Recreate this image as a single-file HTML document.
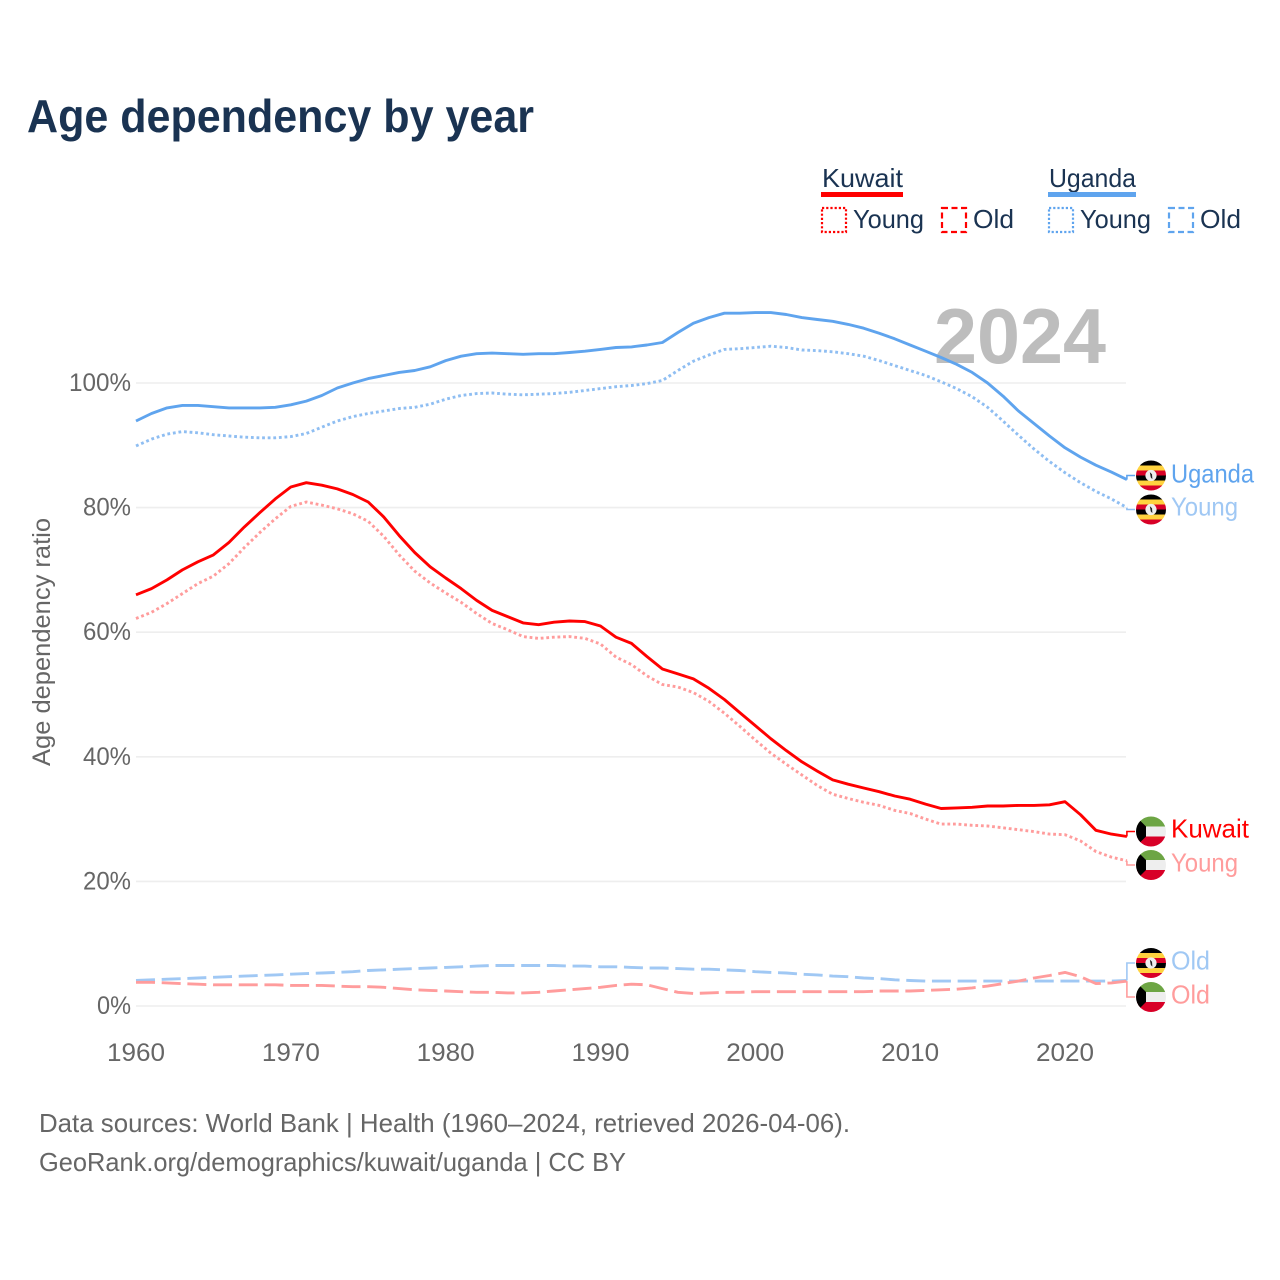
<!DOCTYPE html>
<html lang="en">
<head>
<meta charset="utf-8">
<title>Age dependency by year</title>
<style>
html,body{margin:0;padding:0;background:#fff;}
svg{display:block;}
text{font-family:"Liberation Sans",sans-serif;}
</style>
</head>
<body>
<svg id="chart" xmlns="http://www.w3.org/2000/svg" width="1280" height="1280" viewBox="0 0 1280 1280">
  <defs>
    <clipPath id="flag-clip"><circle cx="0" cy="0" r="15"/></clipPath>
    <g id="flag-uganda">
      <g clip-path="url(#flag-clip)">
        <rect x="-15" y="-15" width="30" height="5" fill="#000"/>
        <rect x="-15" y="-10" width="30" height="5" fill="#ffd23f"/>
        <rect x="-15" y="-5" width="30" height="5" fill="#d80027"/>
        <rect x="-15" y="0" width="30" height="5" fill="#000"/>
        <rect x="-15" y="5" width="30" height="5" fill="#ffd23f"/>
        <rect x="-15" y="10" width="30" height="5" fill="#d80027"/>
        <circle cx="0" cy="0" r="5.6" fill="#eee"/>
        <path d="M-1.2 -3.4 L1 -1.2 L1.4 3.6 L-0.2 2 Z" fill="#222"/>
      </g>
    </g>
    <g id="flag-kuwait">
      <g clip-path="url(#flag-clip)">
        <rect x="-15" y="-15" width="30" height="10" fill="#6da544"/>
        <rect x="-15" y="-5" width="30" height="10" fill="#eeeeee"/>
        <rect x="-15" y="5" width="30" height="10" fill="#d80027"/>
        <path d="M-15 -15 L-5 -5 L-5 5 L-15 15 Z" fill="#000"/>
      </g>
    </g>
  </defs>

  <text x="27" y="132" font-size="46" font-weight="700" fill="#1a3352" textLength="507" lengthAdjust="spacingAndGlyphs">Age dependency by year</text>

  <g id="legend">
    <text x="822" y="187" font-size="26" fill="#1a3352" textLength="81" lengthAdjust="spacingAndGlyphs">Kuwait</text>
    <rect x="821" y="192" width="82" height="5" fill="#ff0000"/>
    <rect x="822" y="208" width="24" height="24" fill="none" stroke="#ff0000" stroke-width="2.2" stroke-dasharray="2.2 2"/>
    <text x="853" y="228" font-size="26" fill="#1a3352" textLength="71" lengthAdjust="spacingAndGlyphs">Young</text>
    <rect x="942" y="208" width="24" height="24" fill="none" stroke="#ff0000" stroke-width="2.2" stroke-dasharray="6 3.5"/>
    <text x="973" y="228" font-size="26" fill="#1a3352" textLength="41" lengthAdjust="spacingAndGlyphs">Old</text>

    <text x="1049" y="187" font-size="26" fill="#1a3352" textLength="87" lengthAdjust="spacingAndGlyphs">Uganda</text>
    <rect x="1048" y="192" width="88" height="5" fill="#5fa4ee"/>
    <rect x="1049" y="208" width="24" height="24" fill="none" stroke="#5fa4ee" stroke-width="2.2" stroke-dasharray="2.2 2"/>
    <text x="1080" y="228" font-size="26" fill="#1a3352" textLength="71" lengthAdjust="spacingAndGlyphs">Young</text>
    <rect x="1169" y="208" width="24" height="24" fill="none" stroke="#5fa4ee" stroke-width="2.2" stroke-dasharray="6 3.5"/>
    <text x="1200" y="228" font-size="26" fill="#1a3352" textLength="41" lengthAdjust="spacingAndGlyphs">Old</text>
  </g>

  <g id="grid"></g>
  <g id="y-ticks"></g>
  <g id="x-ticks"></g>

  <text x="934" y="363" font-size="78" font-weight="700" fill="#bdbdbd" textLength="172" lengthAdjust="spacingAndGlyphs">2024</text>

  <text transform="translate(50,642) rotate(-90)" text-anchor="middle" font-size="25" fill="#666" textLength="248" lengthAdjust="spacingAndGlyphs">Age dependency ratio</text>

  <g id="series"></g>
  <g id="end-labels"></g>

  <text x="39" y="1132" font-size="26" fill="#666" textLength="811" lengthAdjust="spacingAndGlyphs">Data sources: World Bank | Health (1960–2024, retrieved 2026-04-06).</text>
  <text x="39" y="1171" font-size="26" fill="#666" textLength="587" lengthAdjust="spacingAndGlyphs">GeoRank.org/demographics/kuwait/uganda | CC BY</text>
</svg>

<script>
var startYear = 1960;
var yTickValues = [0, 20, 40, 60, 80, 100];
var xTickValues = [1960, 1970, 1980, 1990, 2000, 2010, 2020];

var ugandaTotal = [93.9,95.1,96.0,96.4,96.4,96.2,96.0,96.0,96.0,96.1,96.5,97.1,98.0,99.2,100.0,100.7,101.2,101.7,102.0,102.6,103.6,104.3,104.7,104.8,104.7,104.6,104.7,104.7,104.9,105.1,105.4,105.7,105.8,106.1,106.5,108.1,109.6,110.5,111.2,111.2,111.3,111.3,111.0,110.5,110.2,109.9,109.4,108.8,108.0,107.1,106.1,105.1,104.1,103.0,101.7,100.0,97.9,95.5,93.5,91.5,89.6,88.1,86.8,85.7,84.5];
var ugandaYoung = [89.9,91.0,91.8,92.2,92.0,91.7,91.5,91.3,91.2,91.2,91.4,91.9,92.9,93.9,94.6,95.1,95.5,95.9,96.1,96.6,97.4,98.0,98.3,98.4,98.2,98.1,98.2,98.3,98.5,98.8,99.1,99.4,99.6,99.9,100.4,102.0,103.5,104.5,105.4,105.5,105.7,105.9,105.7,105.3,105.2,105.0,104.7,104.3,103.6,102.8,102.0,101.2,100.2,99.1,97.8,96.1,93.9,91.6,89.4,87.4,85.6,84.0,82.6,81.4,80.0];
var ugandaOld = [4.1,4.2,4.3,4.4,4.5,4.6,4.7,4.8,4.9,5.0,5.1,5.2,5.3,5.4,5.5,5.7,5.8,5.9,6.0,6.1,6.2,6.3,6.4,6.5,6.5,6.5,6.5,6.5,6.4,6.4,6.3,6.3,6.2,6.1,6.1,6.0,5.9,5.9,5.8,5.7,5.5,5.4,5.3,5.1,5.0,4.8,4.7,4.5,4.4,4.2,4.1,4.0,4.0,4.0,4.0,4.0,4.0,4.0,4.0,4.0,4.0,4.0,4.0,4.0,4.1];
var kuwaitTotal = [66.0,67.0,68.4,70.0,71.3,72.4,74.4,76.9,79.2,81.4,83.3,84.0,83.6,83.0,82.1,80.9,78.5,75.5,72.8,70.5,68.7,67.0,65.1,63.5,62.5,61.5,61.2,61.6,61.8,61.7,61.0,59.2,58.2,56.1,54.1,53.3,52.5,51.0,49.2,47.1,45.0,42.9,41.0,39.2,37.7,36.3,35.6,35.0,34.4,33.7,33.2,32.4,31.7,31.8,31.9,32.1,32.1,32.2,32.2,32.3,32.8,30.7,28.2,27.6,27.2];
var kuwaitYoung = [62.2,63.2,64.6,66.2,67.8,69.0,71.0,73.6,76.0,78.2,80.2,80.9,80.4,79.8,79.0,77.8,75.4,72.4,69.8,67.9,66.3,64.8,63.0,61.4,60.4,59.3,59.0,59.2,59.3,59.0,58.1,56.0,54.8,53.0,51.6,51.2,50.3,48.9,47.0,44.9,42.7,40.6,38.8,37.1,35.4,34.0,33.3,32.7,32.2,31.4,30.9,30.0,29.2,29.2,29.0,28.9,28.6,28.3,28.0,27.6,27.5,26.5,24.8,23.9,23.3];
var kuwaitOld = [3.8,3.8,3.7,3.6,3.5,3.4,3.4,3.4,3.4,3.4,3.3,3.3,3.3,3.2,3.1,3.1,3.0,2.8,2.6,2.5,2.4,2.3,2.2,2.2,2.1,2.1,2.2,2.4,2.6,2.8,3.0,3.3,3.5,3.4,2.8,2.2,2.0,2.1,2.2,2.2,2.3,2.3,2.3,2.3,2.3,2.3,2.3,2.3,2.4,2.4,2.4,2.5,2.6,2.7,2.9,3.2,3.6,4.0,4.5,4.9,5.4,4.7,3.6,3.7,4.0];

var NS = 'http://www.w3.org/2000/svg';
function xScale(year) { return 136 + (year - 1960) * 15.483; }
function yScale(v) { return 1006 - v * 6.23; }
function make(tag, attrs, parent) {
  var el = document.createElementNS(NS, tag);
  for (var k in attrs) el.setAttribute(k, attrs[k]);
  parent.appendChild(el);
  return el;
}
function seriesPath(values) {
  return values.map(function (v, i) {
    return (i ? 'L' : 'M') + xScale(startYear + i).toFixed(1) + ' ' + yScale(v).toFixed(1);
  }).join(' ');
}

var grid = document.getElementById('grid');
var yTicks = document.getElementById('y-ticks');
yTickValues.forEach(function (v) {
  var line = make('line', {x1: 136, x2: 1126, y1: yScale(v), y2: yScale(v), stroke: '#eeeeee', 'stroke-width': 1.6}, grid);
  
  
  var t = make('text', {x: 131, y: yScale(v) + 8, 'text-anchor': 'end', 'font-size': 25, fill: '#666'}, yTicks);
  
  
  t.setAttribute('textLength', String(v).length * 14 + 20);
  t.setAttribute('lengthAdjust', 'spacingAndGlyphs');
  t.textContent = v + '%';
});

var xTicks = document.getElementById('x-ticks');
xTickValues.forEach(function (yr) {
  var t = make('text', {x: xScale(yr), y: 1061, 'text-anchor': 'middle', 'font-size': 25, fill: '#666', textLength: 58, lengthAdjust: 'spacingAndGlyphs'}, xTicks);
  
  
  t.textContent = yr;
});

var seriesGroup = document.getElementById('series');
function drawSeries(name, values, color, dash, flagY) {
  var p = make('path', {d: seriesPath(values), fill: 'none', stroke: color, 'stroke-width': 2.9, 'stroke-linejoin': 'round'}, seriesGroup);
  if (dash) p.setAttribute('stroke-dasharray', dash);
  
  
  var lastX = xScale(startYear + values.length - 1);
  var lastY = yScale(values[values.length - 1]);
  var c = make('path', {d: 'M' + lastX.toFixed(1) + ' ' + lastY.toFixed(1) + ' L' + lastX.toFixed(1) + ' ' + flagY + ' L1135 ' + flagY, fill: 'none', stroke: color, 'stroke-width': 1.6}, seriesGroup);
  
  
}

var blue = '#5fa4ee', lightBlue = '#a0c8f4', red = '#ff0000', pink = '#ff9c9c';
var dotted = '2.8 2.8', dashed = '19 6.7';
drawSeries('uganda-old', ugandaOld, lightBlue, dashed, 963);
drawSeries('kuwait-old', kuwaitOld, pink, dashed, 997);
drawSeries('kuwait-young', kuwaitYoung, pink, dotted, 865);
drawSeries('uganda-young', ugandaYoung, '#8fbef2', dotted, 509.5);
drawSeries('kuwait-total', kuwaitTotal, red, null, 831.5);
drawSeries('uganda-total', ugandaTotal, blue, null, 475.5);

var labels = document.getElementById('end-labels');
var flagNames = ['flag-uganda', 'flag-uganda', 'flag-kuwait', 'flag-kuwait', 'flag-uganda', 'flag-kuwait'];
var endLabels = [
  ['uganda-total', 475.5, 'Uganda', blue, 83, 482.5],
  ['uganda-young', 509.5, 'Young', lightBlue, 67, 515.5],
  ['kuwait-total', 831.5, 'Kuwait', red, 78, 837.5],
  ['kuwait-young', 865, 'Young', pink, 67, 871.5],
  ['uganda-old', 963, 'Old', lightBlue, 39, 969.5],
  ['kuwait-old', 997, 'Old', pink, 39, 1003.5]
];
endLabels.forEach(function (d, i) {
  var u = make('use', {href: '#' + flagNames[i], transform: 'translate(1151,' + d[1] + ')'}, labels);
  
  
  var t = make('text', {x: 1171, y: d[5], 'font-size': 26, fill: d[3], textLength: d[4], lengthAdjust: 'spacingAndGlyphs'}, labels);
  
  
  t.textContent = d[2];
});
</script>
</body>
</html>
